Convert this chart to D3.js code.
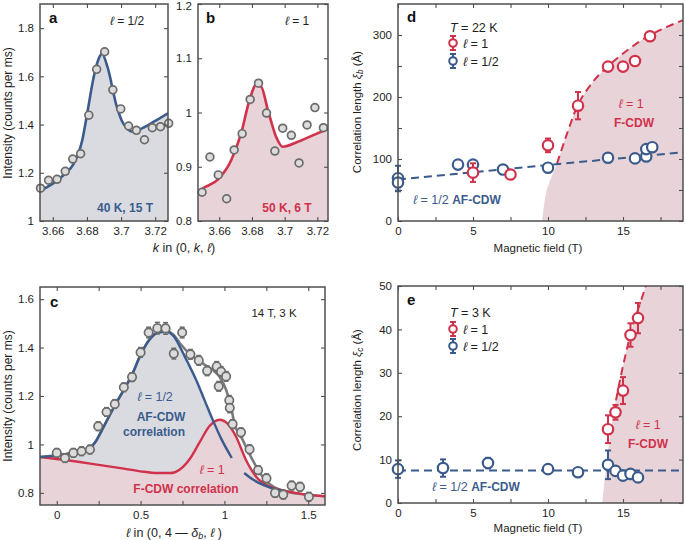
<!DOCTYPE html>
<html><head><meta charset="utf-8">
<script src="https://cdn.jsdelivr.net/npm/d3@7"></script>
<style>
body{margin:0;background:#fff;}
svg{font-family:"Liberation Sans",Arial,Helvetica,sans-serif;}
</style></head><body>
<svg id="chart" width="685" height="540"></svg>
<script>
// ---------- Panel a (l = 1/2, 40 K, 15 T) ----------
const aK   = [3.6528,3.6575,3.6625,3.6673,3.6717,3.6763,3.6811,3.6857,3.6904,3.6952,3.6998,3.7044,3.7090,3.7137,3.7183,3.7231,3.7279];
const aInt = [1.136,1.169,1.173,1.206,1.257,1.279,1.439,1.629,1.702,1.544,1.465,1.394,1.376,1.337,1.387,1.391,1.405];
const aFitK   = [3.6525,3.660,3.667,3.672,3.6773,3.6805,3.684,3.6870,3.6888,3.6920,3.6975,3.7005,3.7033,3.7070,3.7125,3.7200,3.7275];
const aFitInt = [1.125,1.155,1.195,1.235,1.336,1.460,1.598,1.675,1.695,1.640,1.474,1.415,1.385,1.370,1.385,1.415,1.447];
// ---------- Panel b (l = 1, 50 K, 6 T) ----------
const bK   = [3.6495,3.6543,3.6594,3.6645,3.6691,3.6740,3.6789,3.6840,3.6889,3.6940,3.6988,3.7041,3.7088,3.7137,3.7185,3.7237];
const bInt = [0.853,0.918,0.885,0.841,0.931,0.961,1.024,1.054,0.999,0.929,0.971,0.958,0.907,0.977,1.009,0.972];
const bFitK   = [3.6470,3.6494,3.6594,3.6673,3.6734,3.6785,3.6826,3.6856,3.6897,3.6948,3.6988,3.7080,3.7165,3.7265];
const bFitInt = [0.853,0.859,0.877,0.912,0.962,1.023,1.051,1.048,1.005,0.955,0.937,0.946,0.957,0.970];
// ---------- Panel c (14 T, 3 K) ----------
const cL   = [0.000,0.049,0.099,0.148,0.198,0.247,0.297,0.346,0.400,0.449,0.500,0.548,0.600,0.649,0.698,0.748,0.797,0.847,0.897,0.954,0.966,0.980,1.010,1.029,1.032,1.049,1.099,1.150,1.201,1.251,1.302,1.351,1.401,1.451,1.504];
const cInt = [0.965,0.944,0.965,0.972,0.979,1.075,1.134,1.167,1.236,1.278,1.380,1.462,1.480,1.479,1.375,1.462,1.372,1.347,1.304,1.322,1.240,1.301,1.281,1.182,1.151,1.084,1.050,0.980,0.894,0.860,0.800,0.793,0.830,0.825,0.784];
const cErr = [0.018,0.018,0.018,0.018,0.018,0.018,0.018,0.018,0.018,0.018,0.020,0.022,0.024,0.024,0.022,0.022,0.020,0.020,0.020,0.020,0.020,0.020,0.020,0.020,0.020,0.018,0.018,0.018,0.018,0.018,0.018,0.018,0.018,0.018,0.018];
const cBlueL1   = [-0.10,0.00,0.10,0.18,0.23,0.27,0.30,0.35,0.40,0.45,0.50,0.55,0.60,0.65,0.70,0.733,0.78,0.831,0.88,0.93,0.98,1.044];
const cBlueInt1 = [0.948,0.955,0.966,0.978,1.010,1.060,1.100,1.165,1.225,1.290,1.370,1.430,1.460,1.465,1.445,1.405,1.340,1.267,1.185,1.102,1.025,0.944];
const cBlueL2   = [1.118,1.170,1.227,1.280,1.326,1.360];
const cBlueInt2 = [0.882,0.855,0.834,0.820,0.812,0.807];
const cRedL   = [-0.10,0.00,0.20,0.40,0.50,0.60,0.68,0.73,0.79,0.85,0.91,0.97,1.02,1.069,1.128,1.188,1.267,1.35,1.425,1.50,1.60];
const cRedInt = [0.948,0.940,0.921,0.900,0.889,0.882,0.882,0.895,0.937,1.006,1.075,1.102,1.085,1.033,0.937,0.868,0.827,0.810,0.800,0.792,0.786];
const cTotL   = [-0.10,0.00,0.10,0.18,0.23,0.27,0.30,0.35,0.40,0.45,0.50,0.55,0.60,0.65,0.70,0.733,0.811,0.88,0.93,0.97,1.01,1.039,1.059,1.108,1.167,1.227,1.326,1.485,1.60];
const cTotInt = [0.948,0.955,0.966,0.978,1.010,1.060,1.100,1.165,1.225,1.290,1.370,1.430,1.463,1.468,1.450,1.419,1.363,1.330,1.308,1.280,1.226,1.157,1.089,1.020,0.937,0.868,0.814,0.793,0.786];
// ---------- Panel d (T = 22 K) ----------
const dRedB   = [5,7.5,10,12,14,15,15.8,16.8];
const dRedXi  = [78,75,122,186,249,249,258,298];
const dRedErr = [15,5,11,22,5,5,5,5];
const dBlueB   = [0,0,4,5,7,10,14,15.8,16.55,16.55,16.95];
const dBlueXi  = [69,62,91,91,83,86,102,101,104,116,119];
const dBlueErr = [20,14,4,4,4,4,6,4,4,4,5];
const dBlueFitB  = [0,19];
const dBlueFitXi = [67,111];
const dBoundB  = [9.6,9.82,10.15,10.6,11.27,11.93,12.82,13.93,15.27,16.6,17.93,19.0];
const dBoundXi = [0,38.7,65.6,92.6,141,184,219,248,275,297,313,324];
// ---------- Panel e (T = 3 K) ----------
const eRedB   = [14,14.5,15,15.5,16];
const eRedXi  = [17.0,20.9,25.9,38.7,42.6];
const eRedErr = [3.2,1.7,3.1,2.7,3.5];
const eBlueB   = [0,3,6,10,12,14,14.5,15,15.5,16];
const eBlueXi  = [7.8,8.05,9.2,7.8,7.1,8.8,7.4,6.3,6.7,5.9];
const eBlueErr = [2,2,1.2,0.5,0.5,3.3,1,1,0.8,0.5];
const eBlueFitB  = [0,19];
const eBlueFitXi = [7.5,7.5];
const eBoundB  = [13.62,13.93,14.37,15.04,15.70,16.49,16.60];
const eBoundXi = [0,9.96,20.7,32.2,41.4,49.8,51.2];

const BLUE="#3b5b8c", RED="#d0314b", PINK="#e8d4d8", GREYFILL="#d9dbe1", FRAME="#4f4f4f", MK="#6b6b6b", MKF="#dcdcdc";
const svg = d3.select("#chart");
const FONT = '"Liberation Sans",Arial,Helvetica,sans-serif';

function panel(p){
  const x = d3.scaleLinear().domain(p.xd).range([p.x0,p.x1]);
  const y = d3.scaleLinear().domain(p.yd).range([p.y1,p.y0]);
  const id = "clip_"+p.name;
  svg.append("clipPath").attr("id",id).append("rect")
     .attr("x",p.x0).attr("y",p.y0).attr("width",p.x1-p.x0).attr("height",p.y1-p.y0);
  const g = svg.append("g");
  const plot = g.append("g").attr("clip-path",`url(#${id})`);
  return {g,plot,x,y,p};
}
function axes(P){
  const {g,x,y,p} = P;
  const lab = arr => d => arr.some(v=>Math.abs(v-d)<1e-9) ? d3.format("~g")(d) : "";
  const st = s => { s.select(".domain").remove();
    s.attr("font-size",11.5).attr("font-family",FONT);
    s.selectAll("line").attr("stroke",FRAME).attr("stroke-width",1.1);
    s.selectAll("text").attr("fill","#1e1e1e"); };
  const ax = g.append("g");
  ax.append("g").attr("transform",`translate(0,${p.y1})`)
    .call(d3.axisBottom(x).tickValues(p.xt).tickSize(-4).tickPadding(6).tickFormat(lab(p.xl))).call(st);
  ax.append("g").attr("transform",`translate(0,${p.y0})`)
    .call(d3.axisTop(x).tickValues(p.xt).tickSize(-4).tickFormat("")).call(st);
  const left = ax.append("g").attr("transform",`translate(${p.x0},0)`)
    .call(d3.axisLeft(y).tickValues(p.yt).tickSize(-4).tickPadding(6).tickFormat(lab(p.yl))).call(st);
  // keep a label that sits on the top edge of the page fully visible
  left.selectAll(".tick text").filter(d=>y(d)<8).attr("dy","0.5em");
  ax.append("g").attr("transform",`translate(${p.x1},0)`)
    .call(d3.axisRight(y).tickValues(p.yt).tickSize(-4).tickFormat("")).call(st);
  g.append("rect").attr("x",p.x0).attr("y",p.y0).attr("width",p.x1-p.x0).attr("height",p.y1-p.y0)
    .attr("fill","none").attr("stroke",FRAME).attr("stroke-width",1.5);
}
function txt(x,y,parts,opt={}){
  const t = svg.append("text").attr("x",x).attr("y",y).attr("font-size",opt.size||11.5)
    .attr("fill",opt.fill||"#1e1e1e").attr("text-anchor",opt.anchor||"start")
    .attr("font-weight",opt.weight||"normal");
  if(opt.rotate) t.attr("transform",`rotate(-90,${x},${y})`);
  (typeof parts==="string"?[[parts]]:parts).forEach(pt=>{
    const s = t.append("tspan").text(pt[0]);
    if(pt[1]&&pt[1].italic) s.attr("font-style","italic");
    if(pt[1]&&pt[1].sub) s.attr("baseline-shift","-25%").attr("font-size",(opt.size||11.5)*0.72);
    if(pt[1]&&pt[1].size) s.attr("font-size",pt[1].size);
  });
  return t;
}
const zip = (a,b) => a.map((v,i)=>[v,b[i]]);

// ===== Panel a =====
const A = panel({name:"a",x0:40,x1:168,y0:4,y1:221,xd:[3.6525,3.7275],yd:[1,1.9],
  xt:[3.66,3.68,3.70,3.72],xl:[3.66,3.68,3.70,3.72],yt:[1,1.2,1.4,1.6,1.8],yl:[1,1.2,1.4,1.6,1.8]});
{
  const {plot,x,y} = A; const d = zip(aFitK,aFitInt);
  plot.append("path").attr("d",d3.area().x(v=>x(v[0])).y0(y(1)).y1(v=>y(v[1])).curve(d3.curveMonotoneX)(d)).attr("fill",GREYFILL);
  plot.append("path").attr("d",d3.line().x(v=>x(v[0])).y(v=>y(v[1])).curve(d3.curveMonotoneX)(d)).attr("fill","none").attr("stroke",BLUE).attr("stroke-width",2.6);
  A.g.selectAll(null).data(zip(aK,aInt)).join("circle").attr("cx",v=>x(v[0])).attr("cy",v=>y(v[1])).attr("r",3.9)
    .attr("fill",MKF).attr("stroke",MK).attr("stroke-width",1.7);
}
axes(A);
// ===== Panel b =====
const B = panel({name:"b",x0:198,x1:328,y0:4,y1:221,xd:[3.647,3.7265],yd:[0.8,1.2],
  xt:[3.66,3.68,3.70,3.72],xl:[3.66,3.68,3.70,3.72],yt:[0.8,0.9,1,1.1,1.2],yl:[0.8,0.9,1,1.1,1.2]});
{
  const {plot,x,y} = B; const d = zip(bFitK,bFitInt);
  plot.append("path").attr("d",d3.area().x(v=>x(v[0])).y0(y(0.8)).y1(v=>y(v[1])).curve(d3.curveMonotoneX)(d)).attr("fill",PINK);
  plot.append("path").attr("d",d3.line().x(v=>x(v[0])).y(v=>y(v[1])).curve(d3.curveMonotoneX)(d)).attr("fill","none").attr("stroke",RED).attr("stroke-width",2.6);
  B.g.selectAll(null).data(zip(bK,bInt)).join("circle").attr("cx",v=>x(v[0])).attr("cy",v=>y(v[1])).attr("r",3.9)
    .attr("fill",MKF).attr("stroke",MK).attr("stroke-width",1.7);
}
axes(B);
// ===== Panel c =====
const C = panel({name:"c",x0:40,x1:325,y0:287,y1:505,xd:[-0.1,1.6],yd:[0.75,1.65],
  xt:[0,0.25,0.5,0.75,1,1.25,1.5],xl:[0,0.5,1,1.5],yt:[0.8,1,1.2,1.4,1.6],yl:[0.8,1,1.2,1.4,1.6]});
{
  const {plot,x,y} = C;
  const ln = d3.line().x(v=>x(v[0])).y(v=>y(v[1])).curve(d3.curveMonotoneX);
  const ar = d3.area().x(v=>x(v[0])).y0(y(0.75)).y1(v=>y(v[1])).curve(d3.curveMonotoneX);
  const blue1 = zip(cBlueL1,cBlueInt1), blue2 = zip(cBlueL2,cBlueInt2), red = zip(cRedL,cRedInt), tot = zip(cTotL,cTotInt);
  plot.append("path").attr("d",ar(blue1)).attr("fill",GREYFILL);
  plot.append("path").attr("d",ar(red)).attr("fill",PINK);
  plot.append("path").attr("d",ln(tot)).attr("fill","none").attr("stroke","#7a7a7a").attr("stroke-width",2.6);
  plot.append("path").attr("d",ln(red)).attr("fill","none").attr("stroke",RED).attr("stroke-width",2.4);
  plot.append("path").attr("d",ln(blue1)).attr("fill","none").attr("stroke",BLUE).attr("stroke-width",2.4);
  plot.append("path").attr("d",ln(blue2)).attr("fill","none").attr("stroke",BLUE).attr("stroke-width",2.4);
  const pts = cL.map((l,i)=>({l,v:cInt[i],e:cErr[i]}));
  const eb = C.g.append("g").attr("stroke",MK).attr("stroke-width",1.5);
  pts.forEach(p=>{
    eb.append("line").attr("x1",x(p.l)).attr("x2",x(p.l)).attr("y1",y(p.v-p.e)).attr("y2",y(p.v+p.e));
    [p.v-p.e,p.v+p.e].forEach(v=>eb.append("line").attr("x1",x(p.l)-2.5).attr("x2",x(p.l)+2.5).attr("y1",y(v)).attr("y2",y(v)));
  });
  C.g.selectAll(null).data(pts).join("circle").attr("cx",p=>x(p.l)).attr("cy",p=>y(p.v)).attr("r",4.2)
    .attr("fill",MKF).attr("stroke",MK).attr("stroke-width",1.7);
}
axes(C);

// ===== Panels d / e =====
function fieldPanel(P, bound, boundDashFrom, boundToTop, blueFit, red, blue){
  const {plot,x,y,p} = P;
  const bl = zip(bound[0],bound[1]);
  const lineY = d3.line().x(v=>x(v[0])).y(v=>y(v[1]));
  const cv = boundToTop ? d3.curveMonotoneY : d3.curveMonotoneX;
  let path = d3.line().x(v=>x(v[0])).y(v=>y(v[1])).curve(cv)(bl);
  path += boundToTop ? `L${x(p.xd[1])},${y(p.yd[1])}L${x(p.xd[1])},${y(p.yd[0])}Z` : `L${x(p.xd[1])},${y(p.yd[0])}Z`;
  plot.append("path").attr("d",path).attr("fill",PINK);
  const dashPts = bl.filter(v=>v[0]>=boundDashFrom);
  plot.append("path").attr("d",d3.line().x(v=>x(v[0])).y(v=>y(v[1])).curve(cv)(dashPts))
    .attr("fill","none").attr("stroke",RED).attr("stroke-width",2).attr("stroke-dasharray","8,5");
  plot.append("path").attr("d",lineY(zip(blueFit[0],blueFit[1])))
    .attr("fill","none").attr("stroke",BLUE).attr("stroke-width",2).attr("stroke-dasharray","8,5");
  const drawSet = (xs,ys,es,col) => {
    const gg = P.g.append("g");
    xs.forEach((b,i)=>{
      const cx=x(b), y1=y(ys[i]-es[i]), y2=y(ys[i]+es[i]);
      gg.append("line").attr("x1",cx).attr("x2",cx).attr("y1",y1).attr("y2",y2).attr("stroke",col).attr("stroke-width",2);
      [y1,y2].forEach(yy=>gg.append("line").attr("x1",cx-3).attr("x2",cx+3).attr("y1",yy).attr("y2",yy).attr("stroke",col).attr("stroke-width",2));
    });
    xs.forEach((b,i)=>{
      gg.append("circle").attr("cx",x(b)).attr("cy",y(ys[i])).attr("r",5.2).attr("fill","#fff").attr("stroke",col).attr("stroke-width",2.2);
    });
  };
  drawSet(blue[0],blue[1],blue[2],BLUE);
  drawSet(red[0],red[1],red[2],RED);
}
const fxT = [0,2.5,5,7.5,10,12.5,15,17.5], fxL = [0,5,10,15];
const D = panel({name:"d",x0:398,x1:683,y0:4,y1:221,xd:[0,19],yd:[0,350],xt:fxT,xl:fxL,
  yt:[0,50,100,150,200,250,300],yl:[0,100,200,300]});
fieldPanel(D,[dBoundB,dBoundXi],10.5,false,[dBlueFitB,dBlueFitXi],[dRedB,dRedXi,dRedErr],[dBlueB,dBlueXi,dBlueErr]);
axes(D);
const E = panel({name:"e",x0:398,x1:683,y0:286,y1:503,xd:[0,19],yd:[0,50],xt:fxT,xl:fxL,
  yt:[0,10,20,30,40,50],yl:[0,10,20,30,40,50]});
fieldPanel(E,[eBoundB,eBoundXi],14.0,true,[eBlueFitB,eBlueFitXi],[eRedB,eRedXi,eRedErr],[eBlueB,eBlueXi,eBlueErr]);
axes(E);

// legends d/e
function legendItem(cx,cy,col,label){
  svg.append("line").attr("x1",cx).attr("x2",cx).attr("y1",cy-7).attr("y2",cy+7).attr("stroke",col).attr("stroke-width",2);
  [cy-7,cy+7].forEach(v=>svg.append("line").attr("x1",cx-3).attr("x2",cx+3).attr("y1",v).attr("y2",v).attr("stroke",col).attr("stroke-width",2));
  svg.append("circle").attr("cx",cx).attr("cy",cy).attr("r",3.8).attr("fill","#fff").attr("stroke",col).attr("stroke-width",2);
  txt(cx+10,cy+4.5,[["ℓ",{italic:true}],[" = "+label]],{size:12.5});
}
txt(450,32,[["T",{italic:true}],[" = 22 K"]],{size:12.5});
legendItem(453,43,RED,"1"); legendItem(453,61,BLUE,"1/2");
txt(450,317,[["T",{italic:true}],[" = 3 K"]],{size:12.5});
legendItem(453,329,RED,"1"); legendItem(453,346,BLUE,"1/2");

// panel letters
[["a",49,23],["b",206,23],["c",50,307],["d",407,22],["e",407,305]].forEach(d=>
  txt(d[1],d[2],d[0],{size:15,weight:"bold",fill:"#111"}));

// panel a/b annotations
txt(110,25,[["ℓ",{italic:true}],[" = 1/2"]],{size:12});
txt(285,25,[["ℓ",{italic:true}],[" = 1"]],{size:12});
txt(125,212,"40 K, 15 T",{size:12,weight:"bold",fill:BLUE,anchor:"middle"});
txt(287,212,"50 K, 6 T",{size:12,weight:"bold",fill:RED,anchor:"middle"});
// panel c annotations
txt(274,317,"14 T, 3 K",{size:11.5,anchor:"middle"});
txt(155,401,[["ℓ",{italic:true}],[" = 1/2"]],{size:12.5,fill:BLUE,anchor:"middle"});
txt(161,421,"AF-CDW",{size:12,weight:"bold",fill:BLUE,anchor:"middle"});
txt(154,436,"correlation",{size:12,weight:"bold",fill:BLUE,anchor:"middle"});
txt(212,474,[["ℓ",{italic:true}],[" = 1"]],{size:12.5,fill:RED,anchor:"middle"});
txt(186,493,"F-CDW correlation",{size:12,weight:"bold",fill:RED,anchor:"middle"});
// panel d annotations
txt(631,108,[["ℓ",{italic:true}],[" = 1"]],{size:12.5,fill:RED,anchor:"middle"});
txt(634,127,"F-CDW",{size:12,weight:"bold",fill:RED,anchor:"middle"});
{ const t = txt(413,204,[["ℓ",{italic:true}],[" = 1/2 "]],{size:12.5,fill:BLUE});
  t.append("tspan").text("AF-CDW").attr("font-weight","bold").attr("font-size",12); }
// panel e annotations
txt(648,429,[["ℓ",{italic:true}],[" = 1"]],{size:12.5,fill:RED,anchor:"middle"});
txt(648,448,"F-CDW",{size:12,weight:"bold",fill:RED,anchor:"middle"});
{ const t = txt(432,491,[["ℓ",{italic:true}],[" = 1/2 "]],{size:12.5,fill:BLUE});
  t.append("tspan").text("AF-CDW").attr("font-weight","bold").attr("font-size",12); }

// axis titles
txt(12,113,"Intensity (counts per ms)",{rotate:true,anchor:"middle",size:12});
txt(12,396,"Intensity (counts per ms)",{rotate:true,anchor:"middle",size:12});
txt(184,252,[["k",{italic:true}],[" in (0, "],["k",{italic:true}],[", "],["ℓ",{italic:true}],[")"]],{anchor:"middle",size:12.5});
txt(174,537,[["ℓ",{italic:true}],["  in (0, 4 — "],["δ",{italic:true}],["b",{italic:true,sub:true}],[", "],["ℓ",{italic:true}],[" )"]],{anchor:"middle",size:12.5});
txt(361,112,[["Correlation length "],["ξ",{italic:true}],["b",{italic:true,sub:true}],[" (Å)"]],{rotate:true,anchor:"middle"});
txt(361,390,[["Correlation length "],["ξ",{italic:true}],["c",{italic:true,sub:true}],[" (Å)"]],{rotate:true,anchor:"middle"});
txt(538,252,"Magnetic field (T)",{anchor:"middle"});
txt(538,532,"Magnetic field (T)",{anchor:"middle"});
</script>
</body></html>
